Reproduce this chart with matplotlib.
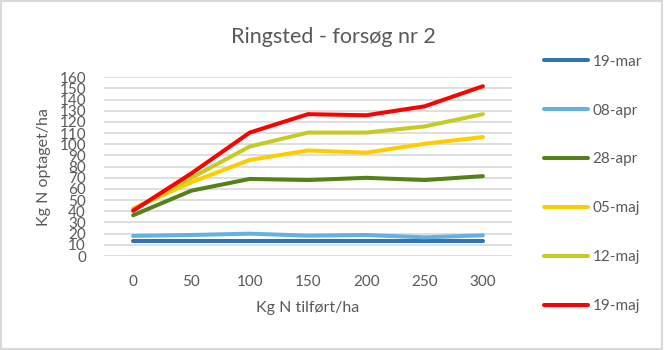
import numpy as np
from matplotlib import pyplot as plt
from matplotlib.patches import Rectangle

plt.rcParams['font.family'] = ['Lato', 'DejaVu Sans']

tilfoert = [0, 50, 100, 150, 200, 250, 300]

datoer = ['19-mar', '08-apr', '28-apr', '05-maj', '12-maj', '19-maj']
n_19mar = [13, 13, 13, 13, 13, 13, 13]
n_08apr = [18, 18.8, 20, 18.2, 18.8, 16.7, 18.5]
n_28apr = [36.5, 58.5, 69, 68, 70, 68, 71.5]
n_05maj = [42.5, 66, 86, 94.5, 92.5, 100.5, 106.5]
n_12maj = [41.5, 70, 98, 110.5, 110.5, 116, 127]
n_19maj = [40.5, 74, 110.5, 127, 126, 134, 152]

colors = ['#2E75B6', '#63B2E3', '#548219', '#FFCC00', '#C4CC24', '#FF0000']
tekst = '#595959'

if __name__ == '__main__':
    fig = plt.figure(figsize=(6.66, 3.5), dpi=100)
    ax = fig.add_axes([104 / 666, 1 - 256 / 350, 408 / 666, (256 - 77.3) / 350])

    serier = [n_19mar, n_08apr, n_28apr, n_05maj, n_12maj, n_19maj]
    xs = np.arange(len(tilfoert))
    for navn, ys, c in zip(datoer, serier, colors):
        ax.plot(xs, ys, color=c, lw=2.9, solid_capstyle='round',
                solid_joinstyle='round', label=navn)

    ax.set_xlim(-0.5, len(tilfoert) - 0.5)
    ax.set_ylim(0, 160)
    ax.set_yticks(np.arange(0, 161, 10))
    ax.set_xticks(xs)
    ax.set_xticklabels([str(t) for t in tilfoert])
    ax.yaxis.grid(True, color='#D9D9D9', lw=1.2)
    ax.set_axisbelow(True)
    for s in ax.spines.values():
        s.set_visible(False)
    ax.tick_params(length=0, labelsize=11, labelcolor=tekst)
    ax.tick_params(axis='y', pad=13)
    ax.tick_params(axis='x', pad=14)

    ax.set_xlabel('Kg N tilført/ha', fontsize=11.5, color=tekst, labelpad=8)
    ax.set_ylabel('Kg N optaget/ha', fontsize=11.5, color=tekst, labelpad=6)
    fig.text(0.5, 1 - 37 / 350, 'Ringsted - forsøg nr 2', ha='center',
             va='center', fontsize=15.5, color=tekst)

    fig.legend(loc='upper left', bbox_to_anchor=(530 / 666, 1 - 41 / 350),
               frameon=False, fontsize=11, labelcolor=tekst,
               handlelength=2.9, handletextpad=0.3, labelspacing=2.28)

    fig.add_artist(Rectangle((0.001, 0.003), 0.993, 0.995,
                             transform=fig.transFigure, fill=False,
                             edgecolor='#D9D9D9', lw=1.5))

    fig.savefig('out.png', dpi=100)
